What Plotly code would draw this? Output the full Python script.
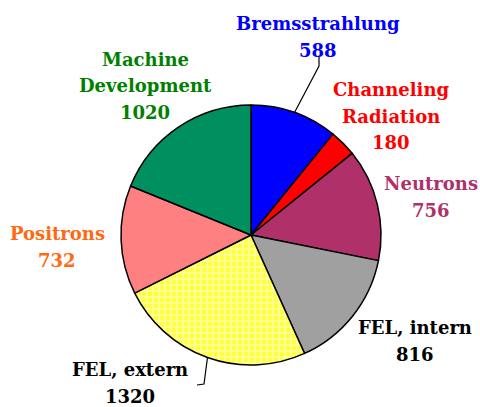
import math
import plotly.graph_objects as go

labels = ["Bremsstrahlung", "Channeling<br>Radiation", "Neutrons", "FEL, intern",
          "FEL, extern", "Positrons", "Machine<br>Development"]
values = [588, 180, 756, 816, 1320, 732, 1020]
slice_colors = ["#0000FF", "#FF0000", "#B0306A", "#A0A0A0", "#FFFF40", "#FF8080", "#009060"]
text_colors = ["#0000FF", "#FF0000", "#B0306A", "#000000", "#000000", "#FF6A10", "#008000"]
patterns = ["", "", "", "", "+", "", ""]

W, H = 480, 407
CX, CY, R = 251, 235, 130
LINE = 26.5

# label block centers (pixels)
label_pos = [(318, 37), (391, 116), (431, 197), (415, 341), (130, 383), (57, 247), (145, 86)]

fig = go.Figure(go.Pie(
    labels=[l.replace("<br>", " ") for l in labels],
    values=values,
    sort=False,
    direction="clockwise",
    rotation=0,
    textinfo="none",
    hoverinfo="label+value",
    marker=dict(
        colors=slice_colors,
        line=dict(color="black", width=1.5),
        pattern=dict(shape=patterns, fgcolor="white", bgcolor=slice_colors,
                     size=6, solidity=0.45, fillmode="overlay"),
    ),
    domain=dict(x=[(CX - R) / W, (CX + R) / W], y=[1 - (CY + R) / H, 1 - (CY - R) / H]),
    showlegend=False,
))

annotations = []
for lab, v, c, (px, py) in zip(labels, values, text_colors, label_pos):
    lines = lab.split("<br>") + [str(v)]
    n = len(lines)
    for k, t in enumerate(lines):
        ly = py + (k - (n - 1) / 2) * LINE
        annotations.append(dict(
            x=px / W, y=1 - ly / H, xref="paper", yref="paper",
            text=f"<b>{t}</b>", showarrow=False,
            font=dict(family="DejaVu Serif", size=18, color=c),
            xanchor="center", yanchor="middle", align="center",
        ))

# leader lines from slice midpoints
total = sum(values)
cum = 0
mids = []
for v in values:
    mids.append((cum + v / 2) / total * 2 * math.pi)
    cum += v

def edge_point(i):
    a = mids[i]
    return CX + R * math.sin(a), CY - R * math.cos(a)

shapes = []
def path(points):
    d = "M " + " L ".join(f"{x / W},{1 - y / H}" for x, y in points)
    return dict(type="path", path=d, xref="paper", yref="paper",
                line=dict(color="black", width=1.2))

bx, by = edge_point(0)
shapes.append(path([(bx, by), (319, 66), (319, 57)]))
fx, fy = edge_point(4)
shapes.append(path([(fx, fy), (204, 384), (197, 385)]))

fig.update_layout(
    width=W, height=H,
    margin=dict(l=0, r=0, t=0, b=0),
    paper_bgcolor="white", plot_bgcolor="white",
    annotations=annotations, shapes=shapes,
)
fig.write_html("out.html", config={"displayModeBar": False},
               post_script="document.body.style.margin='0';document.body.style.padding='0';")
